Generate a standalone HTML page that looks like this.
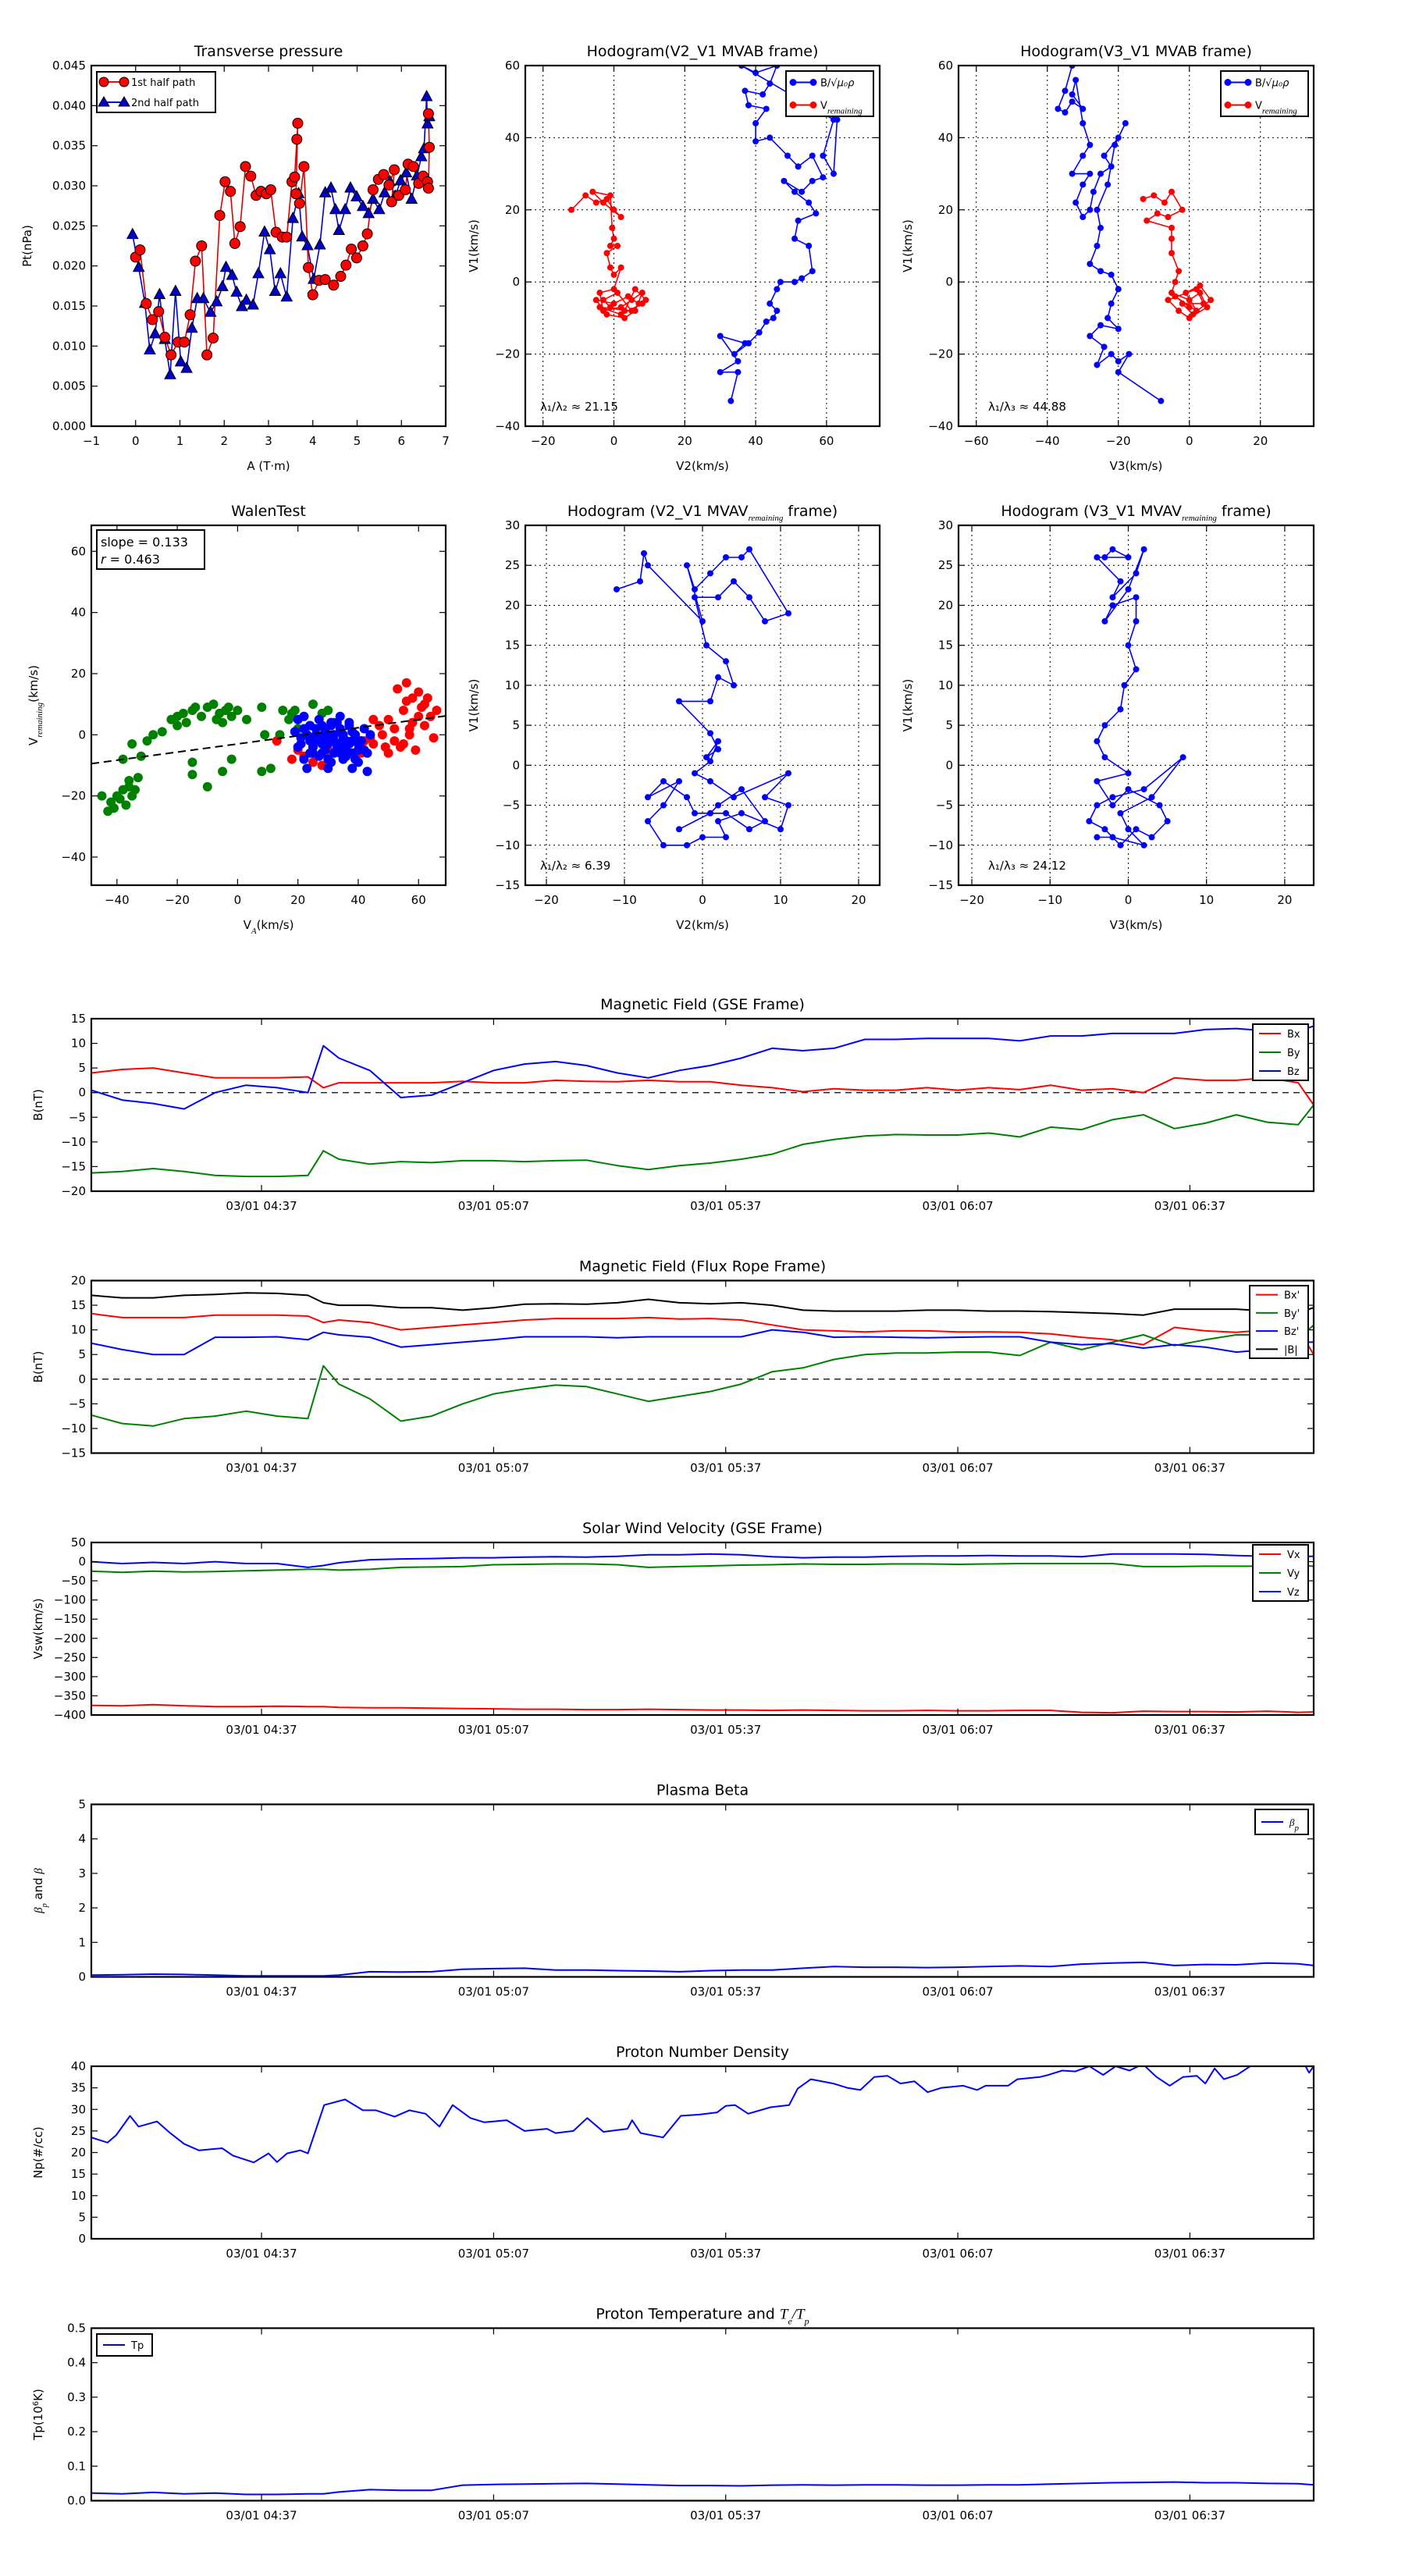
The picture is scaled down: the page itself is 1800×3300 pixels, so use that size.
<!DOCTYPE html>
<html><head><meta charset="utf-8"><style>
html,body{margin:0;padding:0;background:#fff;}
svg{display:block;font-family:"DejaVu Sans","Liberation Sans",sans-serif;}
</style></head><body>
<svg id="fig" xmlns="http://www.w3.org/2000/svg" width="1800" height="3300" viewBox="0 0 1800 3300">
<rect width="1800" height="3300" fill="#fff"/>
</svg>
<script>
// ---------- DATA ----------
const spikeT=[0,4,8,12,16,20,24,28,30,32,36,40,44,48,52,56,60,64,68,72,76,80,84,88,92,96,100,104,108,112,116,120,124,128,132,136,140,144,148,152,156,158];
const timeTicks=[22,52,82,112,142];
const timeTickLabels=["03/01 04:37","03/01 05:07","03/01 05:37","03/01 06:07","03/01 06:37"];
const bxGse=[4,4.7,5,4,3,3,3,3.2,1,2,2,2,2,2.3,2,2,2.5,2.3,2.2,2.5,2.2,2.2,1.5,1,0.2,0.8,0.5,0.5,1,0.5,1,0.6,1.5,0.5,0.8,0,3,2.5,2.5,3,2,-2.5];
const byGse=[-16.3,-16,-15.4,-16,-16.8,-17,-17,-16.8,-11.8,-13.5,-14.5,-14,-14.2,-13.8,-13.8,-14,-13.8,-13.7,-14.8,-15.6,-14.8,-14.3,-13.5,-12.5,-10.5,-9.5,-8.8,-8.5,-8.6,-8.6,-8.2,-9,-7,-7.5,-5.5,-4.5,-7.3,-6.2,-4.5,-6,-6.5,-2.5];
const bzGse=[0.5,-1.5,-2.2,-3.3,0,1.5,1,0,9.5,7,4.5,-1,-0.5,2,4.5,5.8,6.3,5.5,4,3,4.5,5.5,7,9,8.5,9,10.8,10.8,11,11,11,10.5,11.5,11.5,12,12,12,12.8,13,12.5,12.5,13.5];
const bxFr=[13.3,12.5,12.5,12.5,13,13,13,12.8,11.5,12,11.5,10,10.5,11,11.5,12,12.3,12.3,12.3,12.5,12.2,12.3,12,11,10,9.8,9.6,9.8,9.8,9.6,9.6,9.5,9.2,8.5,8,7,10.5,9.8,9.5,10,10.2,5];
const byFr=[-7.3,-9,-9.5,-8,-7.5,-6.5,-7.5,-8,2.7,-1,-4,-8.5,-7.5,-5,-3,-2,-1.2,-1.5,-3,-4.5,-3.5,-2.5,-1,1.5,2.3,4,5,5.3,5.3,5.5,5.5,4.8,7.5,6,7.5,9,6.8,8,9,9,8,11];
const bzFr=[7.3,6,5,5,8.5,8.5,8.6,8,9.5,9,8.5,6.5,7,7.5,8,8.6,8.6,8.6,8.4,8.6,8.6,8.6,8.6,10,9.5,8.5,8.6,8.5,8.4,8.5,8.6,8.6,7.5,7,7.2,6.3,7,6.5,5.5,6,7.5,7.5];
const btFr=[17,16.5,16.5,17,17.2,17.5,17.4,17,15.5,15,15,14.5,14.5,14,14.5,15.2,15.3,15.2,15.5,16.2,15.5,15.3,15.5,15,14,13.8,13.8,13.8,14,14,13.8,13.8,13.7,13.5,13.3,13,14.2,14.2,14.2,13.8,13.5,14.5];
const vx=[-375,-376,-373,-376,-378,-378,-377,-378,-378,-380,-381,-381,-382,-383,-384,-385,-385,-386,-386,-385,-386,-387,-387,-388,-387,-388,-389,-389,-388,-389,-389,-388,-388,-393,-394,-390,-391,-391,-392,-390,-393,-392];
const vy=[-25,-28,-25,-27,-26,-24,-22,-20,-20,-22,-20,-15,-14,-13,-8,-7,-6,-6,-8,-15,-13,-11,-9,-8,-6,-7,-7,-6,-6,-7,-6,-5,-5,-5,-5,-13,-13,-12,-12,-12,-10,-12];
const vz=[0,-5,-2,-5,0,-5,-5,-15,-10,-3,5,7,8,10,10,12,13,12,14,18,18,20,18,13,10,12,12,14,15,15,16,15,15,13,20,20,20,19,16,14,14,14];
const betaP=[0.05,0.06,0.08,0.07,0.05,0.03,0.03,0.03,0.03,0.05,0.15,0.14,0.15,0.22,0.24,0.25,0.2,0.2,0.18,0.17,0.15,0.18,0.2,0.2,0.25,0.3,0.28,0.28,0.27,0.28,0.3,0.32,0.3,0.37,0.4,0.42,0.33,0.36,0.35,0.4,0.38,0.33];
const tp=[0.022,0.02,0.024,0.02,0.022,0.018,0.018,0.02,0.02,0.025,0.032,0.03,0.03,0.045,0.047,0.048,0.049,0.05,0.048,0.046,0.044,0.044,0.043,0.045,0.046,0.045,0.046,0.046,0.045,0.045,0.046,0.046,0.048,0.05,0.052,0.053,0.054,0.052,0.052,0.05,0.049,0.046];
const densT=[0,2.1,3.2,5,6.1,8.5,10.2,12,13.9,16.9,18.3,21,22.9,24,25.3,27,28,30.1,32.8,35.1,36.8,39.2,41.1,43.2,45,46.7,49,50.8,53.7,56,58.9,60,62.3,64.1,66.2,69.3,69.9,71,73.9,76.2,78.6,80.9,82,83.2,84.9,87.8,90.2,91.3,93,95.9,97.7,99.4,101.2,102.9,104.6,106.4,108.1,109.9,112.7,114.5,115.6,118.5,119.7,122.6,123.7,125.5,127.2,129,130.8,132.4,134.2,135.9,137.7,139.4,141.1,142.9,144,145.2,146.4,148.1,149.8,156.8,157.4,158];
const dens=[23.5,22.3,24,28.5,26,27.2,24.5,22,20.5,21,19.3,17.7,19.8,17.8,19.8,20.5,19.8,31,32.3,29.8,29.8,28.3,29.8,29,26,31,28,27,27.5,25,25.5,24.5,25,28,24.8,25.5,27.5,24.5,23.5,28.5,28.8,29.3,30.8,31,29,30.5,31,34.8,37,36,35,34.5,37.5,37.8,36,36.5,34,35,35.5,34.5,35.5,35.5,37,37.5,38,39,38.8,40,38,40,39,40.5,37.5,35.5,37.5,37.8,36,39.5,37,38,40,40.5,38.5,40];
// Transverse pressure
const ptA1=[0,0.1,0.24,0.38,0.52,0.66,0.8,0.96,1.1,1.23,1.35,1.49,1.61,1.75,1.9,2.02,2.14,2.24,2.36,2.48,2.6,2.72,2.83,2.95,3.05,3.17,3.31,3.41,3.53,3.59,3.64,3.66,3.62,3.7,3.8,3.9,4,4.14,4.28,4.47,4.63,4.75,4.87,4.99,5.13,5.23,5.36,5.48,5.6,5.72,5.84,5.78,5.94,6.09,6.15,6.27,6.39,6.49,6.59,6.61,6.63,6.61];
const ptP1=[0.0211,0.022,0.0153,0.0133,0.0143,0.0111,0.0089,0.0105,0.0105,0.0139,0.0206,0.0225,0.0089,0.011,0.0263,0.0305,0.0293,0.0228,0.0249,0.0324,0.0312,0.0288,0.0293,0.029,0.0295,0.0242,0.0236,0.0236,0.0305,0.0311,0.0358,0.0378,0.029,0.0278,0.0324,0.0198,0.0164,0.0182,0.0183,0.0176,0.0187,0.0201,0.0221,0.021,0.0225,0.024,0.0295,0.0308,0.0314,0.0301,0.032,0.028,0.0288,0.0295,0.0327,0.0324,0.0303,0.0312,0.0305,0.0297,0.0348,0.039];
const ptA2=[-0.07,0.07,0.21,0.32,0.44,0.54,0.66,0.78,0.9,1.02,1.15,1.27,1.39,1.53,1.69,1.83,1.96,2.04,2.18,2.28,2.4,2.5,2.65,2.77,2.91,3.03,3.15,3.27,3.41,3.55,3.68,3.76,3.88,4.02,4.16,4.28,4.41,4.51,4.59,4.73,4.85,4.99,5.13,5.26,5.36,5.5,5.62,5.74,5.86,5.98,6.11,6.23,6.35,6.45,6.51,6.57,6.59,6.63];
const ptP2=[0.0239,0.0198,0.0153,0.0095,0.0115,0.0164,0.0108,0.0064,0.0168,0.008,0.0072,0.0122,0.0159,0.0159,0.0142,0.0155,0.0174,0.0198,0.0188,0.0167,0.0149,0.0157,0.0151,0.019,0.0242,0.022,0.0168,0.019,0.0161,0.0259,0.029,0.0236,0.0225,0.0183,0.0226,0.0291,0.0297,0.027,0.0244,0.027,0.0297,0.0286,0.0274,0.0265,0.0283,0.027,0.0291,0.0305,0.0287,0.0306,0.0316,0.0283,0.0312,0.0336,0.0346,0.0411,0.0377,0.0386];
// Hodogram MVAB V2-V1
const h1bV2=[33,35,30,35,30,37,34,38,41,43,45,46,44,46,47,51,53,56,55,51,52,57,55,51,48,53,56,59,56,52,49,44,40,40,43,38,37,42,44,46,40,36,62,59,62,63];
const h1bV1=[-33,-25,-25,-22,-15,-17,-20,-17,-14,-11,-10,-8,-6,-2,0,0,1,3,10,12,17,19,22,25,28,25,28,29,35,32,35,40,39,44,48,49,53,52,55,60,58,60,45,35,30,45];
const h1vV2=[-12,-8,-5,-2,0,2,-3,-6,-1,-0.5,0,-1,1,-2,-1,0,2,0,-4,-3,2,5,8,6,3,-2,-5,0,4,7,9,6,3,-1,-3,1,5,-4,2,8];
const h1vV1=[20,24,22,23,20,18,22,25,24,15,12,10,10,8,4,2,4,-2,-3,-8,-7,-5,-3,-8,-10,-9,-5,-6,-4,-6,-5,-2,-8,-7,-5,-3,-8,-7,-9,-6];
// Hodogram MVAB V3-V1
const h2bV3=[-33,-35,-37,-35,-33,-30,-33,-32,-30,-28,-30,-33,-28,-30,-32,-30,-28,-27,-25,-22,-24,-20,-18,-21,-23,-26,-25,-26,-28,-25,-22,-20,-22,-23,-20,-25,-28,-24,-26,-22,-20,-17,-20,-8];
const h2bV1=[60,53,48,47,50,48,52,56,44,38,35,30,30,27,22,18,20,25,30,32,35,40,44,38,27,20,15,10,5,3,2,-2,-6,-10,-13,-12,-15,-18,-23,-20,-22,-20,-25,-33];
const h2vV3=[-13,-10,-7,-5,-2,-6,-9,-12,-5,-5,-5,-3,-4,-5,0,3,5,0,-3,-6,2,4,-2,1,6,3,-1,2,-4,0];
const h2vV1=[23,24,22,25,20,18,19,17,15,12,8,3,0,-3,-5,-3,-7,-10,-8,-5,-2,-6,-6,-9,-5,-1,-3,-8,-4,-7];
// Walen test
const walGx=[-45,-43,-42,-40,-38,-37,-36,-35,-34,-33,-38,-35,-32,-30,-28,-25,-22,-20,-18,-17,-15,-12,-10,-8,-6,-5,-3,-2,0,3,8,9,-2,-5,-15,-10,8,11,-15,15,17,19,22,25,28,30,32,20,14,-41,-39,-36,-20,-14,-7,-4,18,24];
const walGy=[-20,-25,-22,-20,-18,-23,-15,-20,-18,-14,-8,-3,-7,-2,0,1,5,3,7,4,8,6,9,10,7,4,9,6,8,5,9,0,-8,-12,-13,-17,-12,-11,-9,8,5,8,6,10,7,8,4,2,0,-24,-21,-17,6,9,5,8,7,3];
const walRx=[13,18,22,25,30,35,38,42,45,48,50,52,55,57,55,58,60,62,64,66,53,56,60,62,65,59,50,47,45,28,25,20,54,57,61,63,52,49,56,58,44,41];
const walRy=[-2,-8,-7,-4,-5,-4,-6,-2,-3,0,5,-2,-3,2,8,12,14,10,6,8,15,11,6,3,-1,-5,-6,3,5,-10,-9,-5,-4,0,9,12,2,-4,17,4,-1,-6];
const walBx=[20,22,24,26,28,30,32,34,36,38,40,42,44,28,30,33,35,38,40,43,20,22,25,27,31,34,37,26,29,32,35,24,21,23,30,38,43,28,33,36,19,21,23,25,27,29,31,33,35,37,39,41,24,26,28,30,32,34,36,38,40,22,27,31,35,39,25,29,33,37,41,42,31,34];
const walBy=[5,2,-2,0,3,-3,0,2,-2,1,-3,2,0,-6,-8,-5,-8,-6,-9,-6,-4,-8,-6,5,4,6,4,-2,1,-2,0,3,-1,-11,-11,-11,-12,-1,-3,-5,1,-3,0,-4,-1,-5,-2,-4,-1,-3,0,-2,-6,2,-3,0,-6,1,-7,-2,-5,6,-7,3,-4,-8,-1,-4,4,3,-2,-5,-9,-6];
const walSlope=0.133, walIntercept=-3.0;
// Hodogram MVAV remaining
const h3V2=[-11,-8,-7.5,-7,0,-2,-1,1,3,5,6,11,8,6,4,2,-1,0.5,3,4,2,1,-3,1,2,0.5,2,1,-1,1,4,11,8,11,10,5,2,3,0,-2,-5,-7,-5,-3,-7,-5,-2,-1,3,6,8,5,2,1,-3];
const h3V1=[22,23,26.5,25,18,25,22,24,26,26,27,19,18,21,23,21,21,15,13,10,11,8,8,4,2,1,3,0.5,-1,-2,-4,-1,-4,-5,-8,-6,-7,-9,-9,-10,-10,-7,-5,-2,-4,-2,-4,-6,-6,-8,-7,-3,-5,-6,-8];
const h4V3=[-3,-2,0,-4,-1,-2,1,2,0,-3,-2,1,1,0,1,-0.5,-1,-3,-4,-3,0,-4,-2,0,4,5,3,1,-1,-3,-5,-4,-2,2,7,3,-1,0,2,-2,-4];
const h4V1=[26,27,26,26,23,21,24,27,22,18,20,21,18,15,12,10,7,5,3,1,-1,-2,-5,-3,-5,-7,-9,-8,-10,-8,-7,-5,-4,-3,1,-4,-6,-8,-10,-9,-9];

// ---------- DRAW HELPERS ----------
const NS="http://www.w3.org/2000/svg";
const svg=document.getElementById('fig');
let clipId=0;
function el(tag,attrs,parent){const e=document.createElementNS(NS,tag);for(const k in attrs)e.setAttribute(k,attrs[k]);(parent||svg).appendChild(e);return e;}
function fmt(v,d){const s=Math.abs(v).toFixed(d);return (v<0?'\u2212':'')+s;}
function txt(x,y,s,size,anchor,parent,extra){const t=el('text',Object.assign({x:x,y:y,'font-size':size,'text-anchor':anchor||'middle',fill:'#000'},extra||{}),parent);t.textContent=s;return t;}

function axes(c){
  const g=el('g',{});
  
  
  const sx=v=>c.x+(v-c.xmin)/(c.xmax-c.xmin)*c.w;
  const sy=v=>c.y+c.h-(v-c.ymin)/(c.ymax-c.ymin)*c.h;
  const id='clip'+(clipId++);
  const cp=el('clipPath',{id:id},g);el('rect',{x:c.x,y:c.y,width:c.w,height:c.h},cp);
  if(c.grid){
    c.xticks.forEach(v=>el('line',{x1:sx(v),x2:sx(v),y1:c.y,y2:c.y+c.h,stroke:'#000','stroke-width':1,'stroke-dasharray':'2,4'},g));
    c.yticks.forEach(v=>el('line',{x1:c.x,x2:c.x+c.w,y1:sy(v),y2:sy(v),stroke:'#000','stroke-width':1,'stroke-dasharray':'2,4'},g));
  }
  const plot=el('g',{'clip-path':'url(#'+id+')'},g);
  const tk=el('g',{},g);
  c.xticks.forEach((v,i)=>{const X=sx(v);
    el('line',{x1:X,x2:X,y1:c.y+c.h,y2:c.y+c.h-8,stroke:'#000','stroke-width':1.2},tk);
    el('line',{x1:X,x2:X,y1:c.y,y2:c.y+8,stroke:'#000','stroke-width':1.2},tk);
    const lab=c.xlabels?c.xlabels[i]:fmt(v,c.xdec||0);
    txt(X,c.y+c.h+24,lab,15,'middle',tk);
  });
  c.yticks.forEach((v,i)=>{const Y=sy(v);
    el('line',{x1:c.x,x2:c.x+8,y1:Y,y2:Y,stroke:'#000','stroke-width':1.2},tk);
    el('line',{x1:c.x+c.w,x2:c.x+c.w-8,y1:Y,y2:Y,stroke:'#000','stroke-width':1.2},tk);
    txt(c.x-7,Y+5,fmt(v,c.ydec||0),15,'end',tk);
  });
  if(c.title){const t=txt(c.x+c.w/2,c.y-12,'',19,'middle',g);t.innerHTML=c.title;}
  if(c.xlabel){const t=txt(c.x+c.w/2,c.y+c.h+56,'',15,'middle',g);t.innerHTML=c.xlabel;}
  if(c.ylabel){const yx=c.ylx,yy=c.y+c.h/2;const t=txt(yx,yy,'',15,'middle',g,{transform:'rotate(-90 '+yx+' '+yy+')'});t.innerHTML=c.ylabel;}
  el('rect',{x:c.x,y:c.y,width:c.w,height:c.h,fill:'none',stroke:'#000','stroke-width':2.2},g);
  return {sx,sy,plot,g};
}
function line(ax,xs,ys,color,w,name,dots){
  const n=Math.min(xs.length,ys.length);let d='';
  for(let i=0;i<n;i++)d+=(i?'L':'M')+ax.sx(xs[i]).toFixed(1)+','+ax.sy(ys[i]).toFixed(1);
  const p=el('path',{d:d,fill:'none',stroke:color,'stroke-width':w||2,'stroke-linejoin':'round'},ax.plot);
  
  
  if(dots){for(let i=0;i<n;i++){const c=el('circle',{cx:ax.sx(xs[i]),cy:ax.sy(ys[i]),r:dots,fill:color},ax.plot);
    
    }}
  return p;
}
function scatter(ax,xs,ys,color,r,name){
  const n=Math.min(xs.length,ys.length);
  for(let i=0;i<n;i++){const c=el('circle',{cx:ax.sx(xs[i]),cy:ax.sy(ys[i]),r:r,fill:color},ax.plot);
    
    }
}
function legend(x,y,w,h,items,name){
  const g=el('g',{});
  
  
  el('rect',{x:x,y:y,width:w,height:h,fill:'#fff',stroke:'#000','stroke-width':2},g);
  const step=h/items.length;
  items.forEach((it,i)=>{const cy=y+step*(i+0.5);
    const e=el('g',{},g);
    
    
    el('line',{x1:x+8,x2:x+36,y1:cy,y2:cy,stroke:it.c,'stroke-width':2},e);
    if(it.m==='o'){el('circle',{cx:x+9,cy:cy,r:it.r||4,fill:it.c,stroke:it.ec||it.c},e);el('circle',{cx:x+35,cy:cy,r:it.r||4,fill:it.c,stroke:it.ec||it.c},e);}
    if(it.m==='^'){[x+9,x+35].forEach(px=>el('path',{d:`M${px},${cy-7}L${px+7},${cy+5}L${px-7},${cy+5}Z`,fill:it.c,stroke:'#000'},e));}
    const t=txt(x+44,cy+5,'',it.fs||14,'start',e);t.innerHTML=it.t;
  });
}
function tri(ax,xs,ys,name){
  for(let i=0;i<Math.min(xs.length,ys.length);i++){const X=ax.sx(xs[i]),Y=ax.sy(ys[i]);
    const p=el('path',{d:`M${X},${Y-8}L${X+7},${Y+5}L${X-7},${Y+5}Z`,fill:'#0000cc',stroke:'#000','stroke-width':1},ax.plot);
    
    }
}
const sub=(s)=>`<tspan font-style="italic" font-family="Liberation Serif" font-size="11" baseline-shift="sub">${s}</tspan>`;

// ---------- TOP ROW ----------
let a=axes({name:'transverse-pressure-chart',x:117,y:84,w:454,h:462,xmin:-1,xmax:7,ymin:0,ymax:0.045,
  xticks:[-1,0,1,2,3,4,5,6,7],yticks:[0,0.005,0.01,0.015,0.02,0.025,0.03,0.035,0.04,0.045],ydec:3,
  title:'Transverse pressure',xlabel:'A (T·m)',ylabel:'Pt(nPa)',ylx:40});
line(a,ptA2,ptP2,'#0000cc',1.6,'second-half-path-line');
line(a,ptA1,ptP1,'#dd0000',1.6,'first-half-path-line');
tri(a,ptA2,ptP2,'second-half-marker');
for(let i=0;i<ptA1.length;i++){const c=el('circle',{cx:a.sx(ptA1[i]),cy:a.sy(ptP1[i]),r:6.5,fill:'#ff0000',stroke:'#000','stroke-width':1},a.plot);
  
  }
legend(124,92,152,52,[{c:'#ff0000',m:'o',r:6,ec:'#000',t:'1st half path',fs:13},{c:'#0000cc',m:'^',t:'2nd half path',fs:13}],'pressure-legend');

a=axes({name:'hodogram-v2-v1-mvab',x:673,y:84,w:454,h:462,xmin:-25,xmax:75,ymin:-40,ymax:60,grid:true,
  xticks:[-20,0,20,40,60],yticks:[-40,-20,0,20,40,60],title:'Hodogram(V2_V1 MVAB frame)',xlabel:'V2(km/s)',ylabel:'V1(km/s)',ylx:612});
line(a,h1bV2,h1bV1,'#0000ff',1.6,'b-alfven-path',4);
line(a,h1vV2,h1vV1,'#ff0000',1.6,'v-remaining-path',4);
legend(1007,91,112,58,[{c:'#0000ff',m:'o',t:'B/√<tspan font-style="italic">μ₀ρ</tspan>',fs:13},{c:'#ff0000',m:'o',t:'V'+sub('remaining'),fs:13}],'hodogram1-legend');
txt(692,526,'λ₁/λ₂ ≈ 21.15',15,'start');

a=axes({name:'hodogram-v3-v1-mvab',x:1228,y:84,w:455,h:462,xmin:-65,xmax:35,ymin:-40,ymax:60,grid:true,
  xticks:[-60,-40,-20,0,20],yticks:[-40,-20,0,20,40,60],title:'Hodogram(V3_V1 MVAB frame)',xlabel:'V3(km/s)',ylabel:'V1(km/s)',ylx:1168});
line(a,h2bV3,h2bV1,'#0000ff',1.6,'b-alfven-path',4);
line(a,h2vV3,h2vV1,'#ff0000',1.6,'v-remaining-path',4);
legend(1564,91,112,58,[{c:'#0000ff',m:'o',t:'B/√<tspan font-style="italic">μ₀ρ</tspan>',fs:13},{c:'#ff0000',m:'o',t:'V'+sub('remaining'),fs:13}],'hodogram2-legend');
txt(1266,526,'λ₁/λ₃ ≈ 44.88',15,'start');

// ---------- SECOND ROW ----------
a=axes({name:'walen-test-chart',x:117,y:673,w:454,h:461,xmin:-48.5,xmax:69,ymin:-49.2,ymax:68.5,
  xticks:[-40,-20,0,20,40,60],yticks:[-40,-20,0,20,40,60],title:'WalenTest',xlabel:'V'+sub('A')+'(km/s)',ylabel:'V'+sub('remaining')+'(km/s)',ylx:48});
scatter(a,walGx,walGy,'#008000',6,'walen-green-point');
scatter(a,walRx,walRy,'#ff0000',6,'walen-red-point');
scatter(a,walBx,walBy,'#0000ff',6,'walen-blue-point');
line(a,[-48.5,69],[walSlope*-48.5+walIntercept,walSlope*69+walIntercept],'#000',2,'walen-fit-line').setAttribute('stroke-dasharray','10,6');
(function(){const g=el('g',{});
el('rect',{x:124,y:679,width:138,height:50,fill:'#fff',stroke:'#000','stroke-width':2},g);
txt(129,700,'slope = 0.133',16,'start',g);const t=txt(129,722,'',16,'start',g);t.innerHTML='<tspan font-style="italic">r</tspan> = 0.463';})();

a=axes({name:'hodogram-v2-v1-mvav',x:673,y:673,w:454,h:461,xmin:-22.7,xmax:22.7,ymin:-15,ymax:30,grid:true,
  xticks:[-20,-10,0,10,20],yticks:[-15,-10,-5,0,5,10,15,20,25,30],title:'Hodogram (V2_V1 MVAV'+sub('remaining')+' frame)',xlabel:'V2(km/s)',ylabel:'V1(km/s)',ylx:612});
line(a,h3V2,h3V1,'#0000ff',1.6,'hodogram-path',4);
txt(692,1114,'λ₁/λ₂ ≈ 6.39',15,'start');

a=axes({name:'hodogram-v3-v1-mvav',x:1228,y:673,w:455,h:461,xmin:-21.7,xmax:23.7,ymin:-15,ymax:30,grid:true,
  xticks:[-20,-10,0,10,20],yticks:[-15,-10,-5,0,5,10,15,20,25,30],title:'Hodogram (V3_V1 MVAV'+sub('remaining')+' frame)',xlabel:'V3(km/s)',ylabel:'V1(km/s)',ylx:1168});
line(a,h4V3,h4V1,'#0000ff',1.6,'hodogram-path',4);
txt(1266,1114,'λ₁/λ₃ ≈ 24.12',15,'start');

// ---------- TIME SERIES ----------
function tpanel(i,name,title,ymin,ymax,yticks,ydec,ylabel){
  return axes({name:name,x:117,y:1305+335.5*i,w:1566,h:221,xmin:0,xmax:158,ymin:ymin,ymax:ymax,
    xticks:timeTicks,xlabels:timeTickLabels,yticks:yticks,ydec:ydec,title:title,ylabel:ylabel,ylx:54});
}
function zero(ax){const p=el('line',{x1:117,x2:1683,y1:ax.sy(0),y2:ax.sy(0),stroke:'#000','stroke-width':1.2,'stroke-dasharray':'8,6'},ax.plot);}

a=tpanel(0,'magnetic-field-gse-chart','Magnetic Field (GSE Frame)',-20,15,[-20,-15,-10,-5,0,5,10,15],0,'B(nT)');
zero(a);
line(a,spikeT,bxGse,'#ff0000',2,'bx-line');
line(a,spikeT,byGse,'#008000',2,'by-line');
line(a,spikeT,bzGse,'#0000ff',2,'bz-line');
legend(1605,1312,71,72,[{c:'#ff0000',t:'Bx',fs:13},{c:'#008000',t:'By',fs:13},{c:'#0000ff',t:'Bz',fs:13}],'gse-legend');

a=tpanel(1,'magnetic-field-flux-rope-chart','Magnetic Field (Flux Rope Frame)',-15,20,[-15,-10,-5,0,5,10,15,20],0,'B(nT)');
zero(a);
line(a,spikeT,bxFr,'#ff0000',2,'bx-prime-line');
line(a,spikeT,byFr,'#008000',2,'by-prime-line');
line(a,spikeT,bzFr,'#0000ff',2,'bz-prime-line');
line(a,spikeT,btFr,'#000000',2,'b-total-line');
legend(1601,1647,75,93,[{c:'#ff0000',t:"Bx'",fs:13},{c:'#008000',t:"By'",fs:13},{c:'#0000ff',t:"Bz'",fs:13},{c:'#000',t:'|B|',fs:13}],'flux-rope-legend');

a=tpanel(2,'solar-wind-velocity-chart','Solar Wind Velocity (GSE Frame)',-400,50,[-400,-350,-300,-250,-200,-150,-100,-50,0,50],0,'Vsw(km/s)');
line(a,spikeT,vx,'#ff0000',2,'vx-line');
line(a,spikeT,vy,'#008000',2,'vy-line');
line(a,spikeT,vz,'#0000ff',2,'vz-line');
legend(1605,1979,71,72,[{c:'#ff0000',t:'Vx',fs:13},{c:'#008000',t:'Vy',fs:13},{c:'#0000ff',t:'Vz',fs:13}],'velocity-legend');

a=tpanel(3,'plasma-beta-chart','Plasma Beta',0,5,[0,1,2,3,4,5],0,'<tspan font-style="italic" font-family="Liberation Serif">β<tspan font-size="10" baseline-shift="sub">p</tspan></tspan> and <tspan font-style="italic" font-family="Liberation Serif">β</tspan>');
line(a,spikeT,betaP,'#0000ff',2,'beta-p-line');
legend(1608,2318,68,32,[{c:'#0000ff',t:'<tspan font-style="italic" font-family="Liberation Serif">β</tspan>'+sub('p'),fs:13}],'beta-legend');

a=tpanel(4,'proton-density-chart','Proton Number Density',0,40,[0,5,10,15,20,25,30,35,40],0,'Np(#/cc)');
line(a,densT,dens,'#0000ff',2,'density-line');

a=tpanel(5,'proton-temperature-chart','Proton Temperature and <tspan font-style="italic" font-family="Liberation Serif">T</tspan><tspan font-style="italic" font-size="12" font-family="Liberation Serif" baseline-shift="sub">e</tspan><tspan font-style="italic" font-family="Liberation Serif">/T</tspan><tspan font-style="italic" font-size="12" font-family="Liberation Serif" baseline-shift="sub">p</tspan>',0,0.5,[0,0.1,0.2,0.3,0.4,0.5],1,'Tp(10<tspan font-size="10" baseline-shift="super">6</tspan>K)');
line(a,spikeT,tp,'#0000ff',2,'tp-line');
legend(124,2990,71,28,[{c:'#0000ff',t:'Tp',fs:13}],'tp-legend');
</script>
</body></html>
